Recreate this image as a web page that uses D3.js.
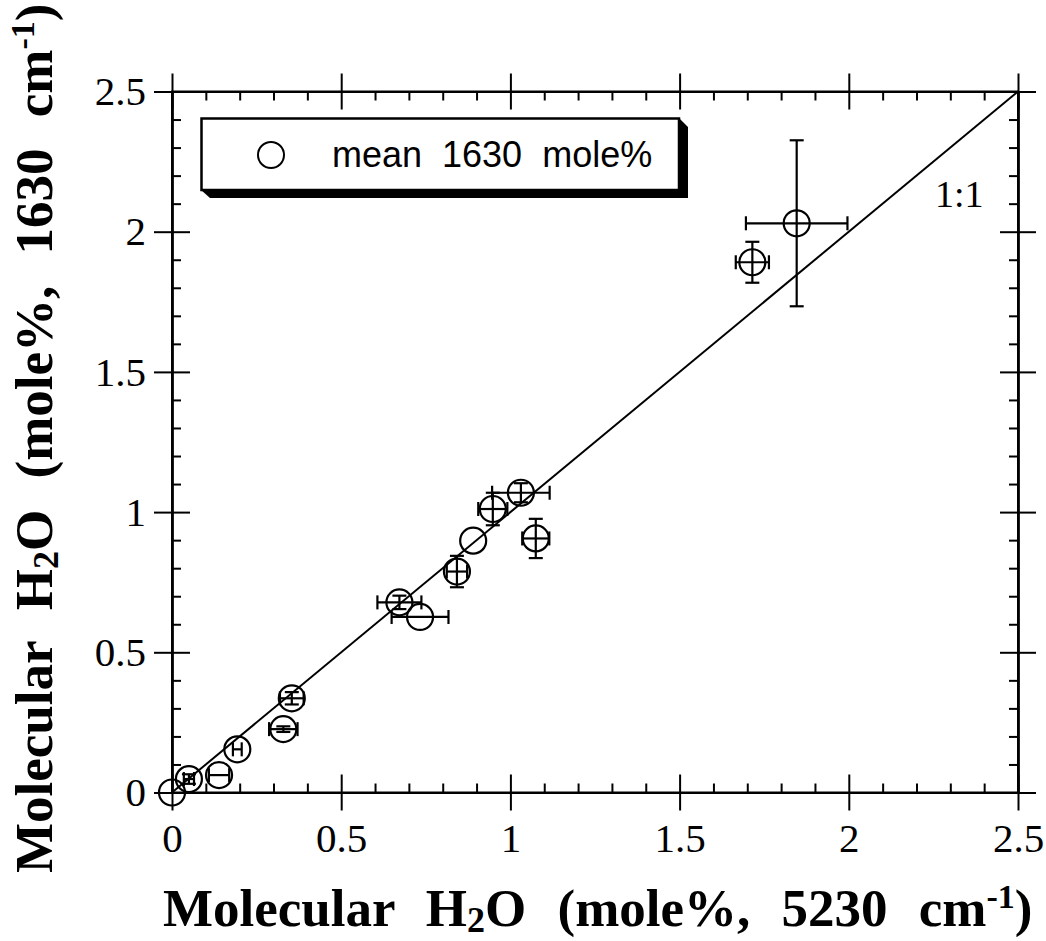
<!DOCTYPE html>
<html>
<head>
<meta charset="utf-8">
<script src="https://cdn.jsdelivr.net/npm/d3@7"></script>
<style>
  body { margin: 0; background: #fff; }
  svg { display: block; }
  .tick text { font-family: "Liberation Serif", "Times New Roman", serif; font-size: 41px; fill: #000; }
  .axis path, .axis line { stroke: #000; stroke-width: 2px; }
</style>
</head>
<body>
<script>
// values (mole%)
var xVals = [0.000, 0.050, 0.139, 0.193, 0.354, 0.329, 0.672, 0.733, 0.842, 0.890, 0.948, 1.031, 1.075, 1.715, 1.846];
var yVals = [0.000, 0.048, 0.062, 0.154, 0.336, 0.226, 0.678, 0.626, 0.788, 0.898, 1.011, 1.069, 0.906, 1.891, 2.030];
var xErr  = [0,     0.015, 0.030, 0.013, 0.035, 0.042, 0.065, 0.084, 0.030, 0,     0.043, 0.085, 0.040, 0.049, 0.150];
var yErr  = [0,     0.017, 0,     0,     0.022, 0.010, 0.024, 0,     0.056, 0,     0.058, 0.034, 0.070, 0.073, 0.296];

var majorTicks = [0, 0.5, 1, 1.5, 2, 2.5];
var tickLabels = ["0", "0.5", "1", "1.5", "2", "2.5"];
var legendLabel = "mean 1630 mole%";
var lineLabel = "1:1";

var svgWidth = 1046;
var svgHeight = 941;

var plot = { left: 172, right: 1018, top: 91.5, bottom: 792.5 };

var svg = d3.select("body")
  .append("svg")
    .attr("width", svgWidth)
    .attr("height", svgHeight);

var xScale = d3.scaleLinear().domain([0, 2.5]).range([plot.left, plot.right]);
var yScale = d3.scaleLinear().domain([0, 2.5]).range([plot.bottom, plot.top]);

var minorTicks = xScale.ticks(25).filter(function(t) {
  return majorTicks.indexOf(+t.toFixed(2)) < 0;
});

function fmt(d) { return tickLabels[majorTicks.indexOf(d)]; }

// frame
svg.append("rect")
  .attr("x", plot.left)
  .attr("y", plot.top)
  .attr("width", plot.right - plot.left)
  .attr("height", plot.bottom - plot.top)
  .style("fill", "none")
  .style("stroke", "#000")
  .style("stroke-width", 2);

// bottom axis
var gx = svg.append("g").attr("class", "axis")
  .attr("transform", "translate(0," + plot.bottom + ")")
  .call(d3.axisBottom(xScale).tickValues(majorTicks).tickSize(18).tickSizeOuter(0).tickPadding(12).tickFormat(fmt));
gx.selectAll("text").attr("dy", null).attr("y", 59);
svg.append("g").attr("class", "axis")
  .attr("transform", "translate(0," + plot.bottom + ")")
  .call(d3.axisBottom(xScale).tickValues(majorTicks).tickSize(-18).tickSizeOuter(0).tickFormat(""));
svg.append("g").attr("class", "axis")
  .attr("transform", "translate(0," + plot.bottom + ")")
  .call(d3.axisBottom(xScale).tickValues(minorTicks).tickSize(-9).tickSizeOuter(0).tickFormat(""));

// top axis
svg.append("g").attr("class", "axis")
  .attr("transform", "translate(0," + plot.top + ")")
  .call(d3.axisTop(xScale).tickValues(majorTicks).tickSize(18).tickSizeOuter(0).tickFormat(""));
svg.append("g").attr("class", "axis")
  .attr("transform", "translate(0," + plot.top + ")")
  .call(d3.axisTop(xScale).tickValues(majorTicks).tickSize(-18).tickSizeOuter(0).tickFormat(""));
svg.append("g").attr("class", "axis")
  .attr("transform", "translate(0," + plot.top + ")")
  .call(d3.axisTop(xScale).tickValues(minorTicks).tickSize(-9).tickSizeOuter(0).tickFormat(""));

// left axis
var gy = svg.append("g").attr("class", "axis")
  .attr("transform", "translate(" + plot.left + ",0)")
  .call(d3.axisLeft(yScale).tickValues(majorTicks).tickSize(18).tickSizeOuter(0).tickPadding(8).tickFormat(fmt));
gy.selectAll("text").attr("dy", "0.32em");
svg.append("g").attr("class", "axis")
  .attr("transform", "translate(" + plot.left + ",0)")
  .call(d3.axisLeft(yScale).tickValues(majorTicks).tickSize(-18).tickSizeOuter(0).tickFormat(""));
svg.append("g").attr("class", "axis")
  .attr("transform", "translate(" + plot.left + ",0)")
  .call(d3.axisLeft(yScale).tickValues(minorTicks).tickSize(-9).tickSizeOuter(0).tickFormat(""));

// right axis
svg.append("g").attr("class", "axis")
  .attr("transform", "translate(" + plot.right + ",0)")
  .call(d3.axisRight(yScale).tickValues(majorTicks).tickSize(18).tickSizeOuter(0).tickFormat(""));
svg.append("g").attr("class", "axis")
  .attr("transform", "translate(" + plot.right + ",0)")
  .call(d3.axisRight(yScale).tickValues(majorTicks).tickSize(-18).tickSizeOuter(0).tickFormat(""));
svg.append("g").attr("class", "axis")
  .attr("transform", "translate(" + plot.right + ",0)")
  .call(d3.axisRight(yScale).tickValues(minorTicks).tickSize(-9).tickSizeOuter(0).tickFormat(""));

// 1:1 line
svg.append("line")
  .attr("x1", xScale(0)).attr("y1", yScale(0))
  .attr("x2", xScale(2.5)).attr("y2", yScale(2.5))
  .style("stroke", "#000")
  .style("stroke-width", 2);

svg.append("text")
  .attr("x", 935)
  .attr("y", 207)
  .style("font-family", "'Liberation Serif', 'Times New Roman', serif")
  .style("font-size", "38px")
  .text(lineLabel);

// points with error bars
var cap = 7;
var points = xVals.map(function(x, i) {
  return { x: x, y: yVals[i], ex: xErr[i], ey: yErr[i] };
});

var node = svg.append("g")
  .selectAll("g")
  .data(points)
  .enter()
  .append("g")
    .style("stroke", "#000")
    .style("stroke-width", 2.2)
    .style("fill", "none");

node.filter(function(d) { return d.ex > 0; }).each(function(d) {
  var g = d3.select(this);
  var cy = yScale(d.y), xa = xScale(d.x - d.ex), xb = xScale(d.x + d.ex);
  g.append("line").attr("x1", xa).attr("x2", xb).attr("y1", cy).attr("y2", cy);
  g.append("line").attr("x1", xa).attr("x2", xa).attr("y1", cy - cap).attr("y2", cy + cap);
  g.append("line").attr("x1", xb).attr("x2", xb).attr("y1", cy - cap).attr("y2", cy + cap);
});

node.filter(function(d) { return d.ey > 0; }).each(function(d) {
  var g = d3.select(this);
  var cx = xScale(d.x), ya = yScale(d.y - d.ey), yb = yScale(d.y + d.ey);
  g.append("line").attr("x1", cx).attr("x2", cx).attr("y1", ya).attr("y2", yb);
  g.append("line").attr("x1", cx - cap).attr("x2", cx + cap).attr("y1", ya).attr("y2", ya);
  g.append("line").attr("x1", cx - cap).attr("x2", cx + cap).attr("y1", yb).attr("y2", yb);
});

node.append("circle")
  .attr("cx", function(d) { return xScale(d.x); })
  .attr("cy", function(d) { return yScale(d.y); })
  .attr("r", 13);

// legend box with drop shadow
svg.append("polygon")
  .attr("points", "679,118 688,127 688,198 210,198 201,190 679,190")
  .style("fill", "#000");
svg.append("rect")
  .attr("x", 201.5).attr("y", 118.5)
  .attr("width", 477.5).attr("height", 71.5)
  .style("fill", "#fff")
  .style("stroke", "#000")
  .style("stroke-width", 2.5);
svg.append("circle")
  .attr("cx", 271).attr("cy", 155).attr("r", 13)
  .style("fill", "none").style("stroke", "#000").style("stroke-width", 2);
svg.append("text")
  .attr("x", 332)
  .attr("y", 167)
  .style("font-family", "'Liberation Sans', Arial, sans-serif")
  .style("font-size", "36px")
  .style("word-spacing", "10px")
  .text(legendLabel);

// axis titles
function title(sel, cmLabel) {
  sel.style("font-family", "'Liberation Serif', 'Times New Roman', serif")
    .style("font-size", "53px")
    .style("font-weight", "bold")
    .style("word-spacing", "18px");
  sel.append("tspan").text("Molecular H");
  sel.append("tspan").attr("dy", 6).style("font-size", "36px").text("2");
  sel.append("tspan").attr("dy", -6).text("O (mole%, " + cmLabel + " cm");
  sel.append("tspan").attr("dy", -18).style("font-size", "34px").text("-1");
  sel.append("tspan").attr("dy", 18).text(")");
}

svg.append("text")
  .attr("x", 163)
  .attr("y", 926)
  .call(title, "5230");

svg.append("text")
  .attr("transform", "translate(52,873) rotate(-90)")
  .call(title, "1630");
</script>
</body>
</html>
